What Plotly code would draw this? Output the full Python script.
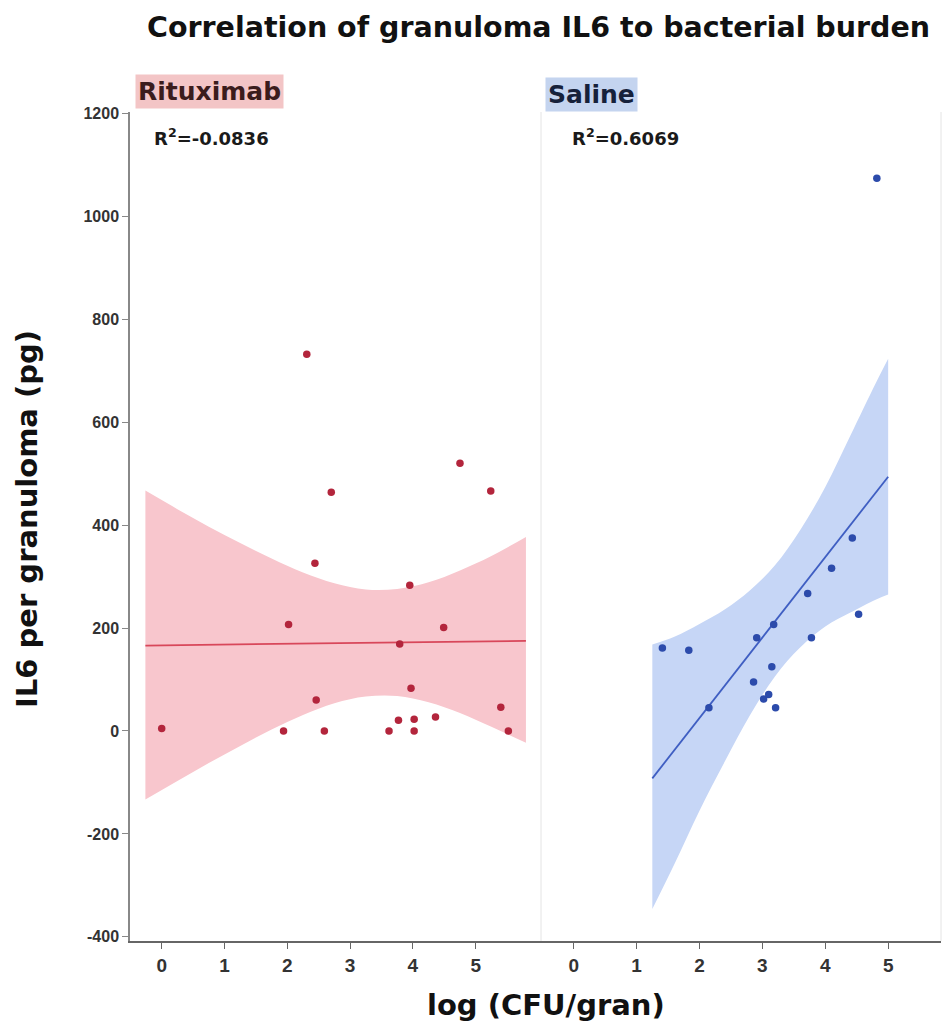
import plotly.graph_objects as go

# ---- Rituximab group ----
rit_x = [0.00, 1.94, 2.02, 2.31, 2.44, 2.46, 2.59, 2.70, 3.62, 3.77, 3.79,
         3.95, 3.97, 4.02, 4.02, 4.36, 4.49, 4.75, 5.24, 5.40, 5.52]
rit_y = [5, 0, 207, 732, 326, 60, 0, 464, 0, 21, 169,
         283, 83, 23, 0, 27, 201, 520, 466, 46, 0]
rit_fit_x = [-0.26, 5.80]
rit_fit_y = [166, 175]
rit_band_x = [-0.26, 0.25, 0.75, 1.25, 1.75, 2.25, 2.75, 3.25, 3.75, 4.25, 4.75, 5.25, 5.80]
rit_band_hi = [467, 431, 397, 365, 335, 308, 287, 275, 276, 289, 312, 340, 377]
rit_band_lo = [-133, -97, -62, -29, 3, 31, 54, 67, 68, 56, 35, 8, -23]
rit_r2 = "-0.0836"

# ---- Saline group ----
sal_x = [1.41, 1.83, 2.15, 2.86, 2.91, 3.02, 3.10, 3.15, 3.18, 3.21,
         3.72, 3.78, 4.10, 4.43, 4.53, 4.82]
sal_y = [161, 157, 45, 95, 181, 62, 71, 125, 207, 45,
         267, 181, 316, 375, 227, 1074]
sal_fit_x = [1.25, 5.00]
sal_fit_y = [-92, 494]
sal_band_x = [1.25, 1.6, 2.0, 2.4, 2.8, 3.2, 3.6, 4.0, 4.4, 4.8, 5.00]
sal_band_hi = [168, 183, 208, 236, 273, 322, 390, 474, 574, 675, 723]
sal_band_lo = [-346, -259, -155, -60, 30, 106, 162, 203, 230, 255, 265]
sal_r2 = "0.6069"

x_ticks = [0, 1, 2, 3, 4, 5]
y_ticks = [-400, -200, 0, 200, 400, 600, 800, 1000, 1200]
y_tick_text = ["-400", "-200", "0", "200", "400", "600", "800", "1000", "1200"]

TITLE_FONT = "DejaVu Sans"
TICK_FONT = "Liberation Sans, Arial, sans-serif"

fig = go.Figure()


def add_group(xa, px, py, fx, fy, bx, bhi, blo, band_col, line_col, pt_col):
    fig.add_trace(go.Scatter(x=bx, y=blo, mode="lines", xaxis=xa, yaxis="y",
                             line=dict(width=0, shape="spline"),
                             hoverinfo="skip", showlegend=False))
    fig.add_trace(go.Scatter(x=bx, y=bhi, mode="lines", xaxis=xa, yaxis="y",
                             line=dict(width=0, shape="spline"),
                             fill="tonexty", fillcolor=band_col,
                             hoverinfo="skip", showlegend=False))
    fig.add_trace(go.Scatter(x=fx, y=fy, mode="lines", xaxis=xa, yaxis="y",
                             line=dict(color=line_col, width=1.8),
                             showlegend=False))
    fig.add_trace(go.Scatter(x=px, y=py, mode="markers", xaxis=xa, yaxis="y",
                             marker=dict(size=7.5, color=pt_col),
                             showlegend=False))


add_group("x", rit_x, rit_y, rit_fit_x, rit_fit_y, rit_band_x, rit_band_hi, rit_band_lo,
          "#f8c6cd", "#d8475a", "#b3253c")
add_group("x2", sal_x, sal_y, sal_fit_x, sal_fit_y, sal_band_x, sal_band_hi, sal_band_lo,
          "#c6d6f6", "#3f5ec2", "#2c4bab")

split = (541 - 130) / 811

axis_common = dict(
    showgrid=False, zeroline=False, showline=True, linecolor="#666666", linewidth=1.5,
    ticks="outside", ticklen=6, tickcolor="#666666", tickwidth=1.2,
    tickvals=x_ticks, tickfont=dict(family=TICK_FONT, size=19, color="#333333", weight="bold"),
    anchor="y",
)

fig.update_layout(
    width=943, height=1026,
    margin=dict(l=130, r=2, t=112, b=85),
    paper_bgcolor="white", plot_bgcolor="white",
    showlegend=False,
    title=dict(text="Correlation of granuloma IL6 to bacterial burden",
               font=dict(family=TITLE_FONT, size=28.5, color="#111111", weight="bold"),
               x=147 / 943, xanchor="left", xref="container",
               y=1 - 27 / 1026, yanchor="middle", yref="container"),
    xaxis=dict(domain=[0, split], range=[-0.505, 6.04], **axis_common),
    xaxis2=dict(domain=[split, 1], range=[-0.52, 5.84], **axis_common),
    yaxis=dict(range=[-408, 1202.5], tickvals=y_ticks, ticktext=y_tick_text,
               showgrid=False, zeroline=False,
               showline=True, linecolor="#888888", linewidth=1.5,
               ticks="outside", ticklen=6, tickcolor="#888888", tickwidth=1.2,
               tickfont=dict(family=TICK_FONT, size=16, color="#333333", weight="bold")),
)

# faint panel borders of the Saline facet
for xv in (0, 1):
    fig.add_shape(type="line", xref="x2 domain", yref="y domain", x0=xv, x1=xv, y0=0, y1=1,
                  line=dict(color="#e4e4e4", width=1), layer="below")

annotations = [
    dict(text="Rituximab", xref="x domain", yref="y domain", x=0, y=1,
         xanchor="left", yanchor="bottom", xshift=5, yshift=3, showarrow=False,
         bgcolor="#f3c5c6", borderpad=2,
         font=dict(family=TITLE_FONT, size=25, color="#3b1c1c", weight="bold")),
    dict(text="Saline", xref="x2 domain", yref="y domain", x=0, y=1,
         xanchor="left", yanchor="bottom", xshift=4, yshift=0, showarrow=False,
         bgcolor="#c4d4ef", borderpad=2,
         font=dict(family=TITLE_FONT, size=25, color="#16213a", weight="bold")),
    dict(text="R<sup>2</sup>=" + rit_r2, xref="x domain", yref="y domain", x=0, y=1,
         xanchor="left", yanchor="middle", xshift=22, yshift=-25, showarrow=False,
         font=dict(family=TITLE_FONT, size=18, color="#1a1a1a", weight="bold")),
    dict(text="R<sup>2</sup>=" + sal_r2, xref="x2 domain", yref="y domain", x=0, y=1,
         xanchor="left", yanchor="middle", xshift=29, yshift=-25, showarrow=False,
         font=dict(family=TITLE_FONT, size=18, color="#1a1a1a", weight="bold")),
    dict(text="log (CFU/gran)", xref="paper", yref="paper",
         x=(545.6 - 130) / 811, y=(941 - 1005) / 829,
         xanchor="center", yanchor="middle", showarrow=False,
         font=dict(family=TITLE_FONT, size=29, color="#111111", weight="bold")),
    dict(text="IL6 per granuloma (pg)", xref="paper", yref="paper",
         x=(27 - 130) / 811, y=(941 - 519) / 829, textangle=-90,
         xanchor="center", yanchor="middle", showarrow=False,
         font=dict(family=TITLE_FONT, size=29, color="#111111", weight="bold")),
]
fig.update_layout(annotations=annotations)

fig.write_html("out.html")
